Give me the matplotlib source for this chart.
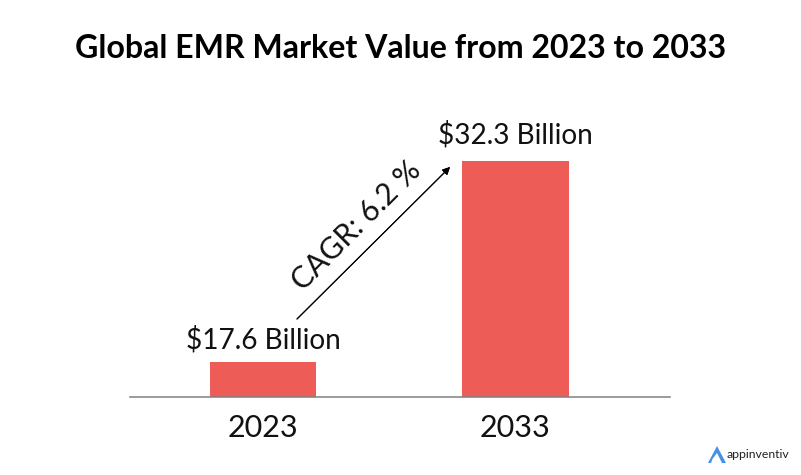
import matplotlib.pyplot as plt
from matplotlib.patches import Polygon

years = ['2023', '2033']
values = [17.6, 32.3]
value_labels = ['$17.6 Billion', '$32.3 Billion']

W, H = 801, 475
plt.rcParams['font.family'] = ['Lato', 'DejaVu Sans']
plt.rcParams['text.parse_math'] = False

fig = plt.figure(figsize=(W / 100, H / 100), dpi=100)

# axes box in pixels: left 130, right 670, baseline at 396.5
ax = fig.add_axes([130 / W, 1 - 396.5 / H, 540 / W, 296.5 / H])
ax.set_xlim(-0.527, 1.612)
ax.set_ylim(15.04, 36.73)  # truncated like the original

bars = ax.bar([0, 1], values, width=0.42, color='#ed5c57')

for s in ['top', 'left', 'right']:
    ax.spines[s].set_visible(False)
ax.spines['bottom'].set_color('#808080')
ax.spines['bottom'].set_linewidth(1.1)
ax.set_yticks([])
ax.set_xticks([0, 1])
ax.set_xticklabels(years, fontsize=22, color='#111111')
ax.tick_params(axis='x', length=0, pad=12.5)

for bar, lab, off in zip(bars, value_labels, [5.5, 9]):
    ax.annotate(lab, (bar.get_x() + bar.get_width() / 2, bar.get_height()),
                xytext=(0, off), textcoords='offset points', ha='center', va='bottom',
                fontsize=20.2, color='#111111')


def fx(px):
    return px / W


def fy(py):
    return 1 - py / H


fig.text(0.5, fy(49), 'Global EMR Market Value from 2023 to 2033', ha='center', va='center',
         fontsize=23.1, fontweight='bold', color='black')

# growth arrow
fig.add_artist(plt.annotate('', xy=(fx(450), fy(167)), xytext=(fx(297), fy(319)),
                            xycoords='figure fraction', textcoords='figure fraction',
                            arrowprops=dict(arrowstyle='-|>', lw=0.8, color='black', mutation_scale=11,
                                            shrinkA=0, shrinkB=0)))
fig.text(fx(357), fy(226), 'CAGR: 6.2 %', rotation=45, rotation_mode='anchor', ha='center', va='center',
         fontsize=21.5, color='#111111')

# logo
fig.add_artist(Polygon([(fx(708), fy(463)), (fx(717), fy(446)), (fx(726), fy(463)), (fx(722), fy(463)),
                        (fx(717), fy(453)), (fx(712.5), fy(459)), (fx(711), fy(463))],
                       closed=True, transform=fig.transFigure, color='#4a90e2', lw=0))
fig.text(fx(727), fy(455), 'appinventiv', ha='left', va='center', fontsize=8.8, color='#222222')

fig.savefig('out.png', dpi=100)
